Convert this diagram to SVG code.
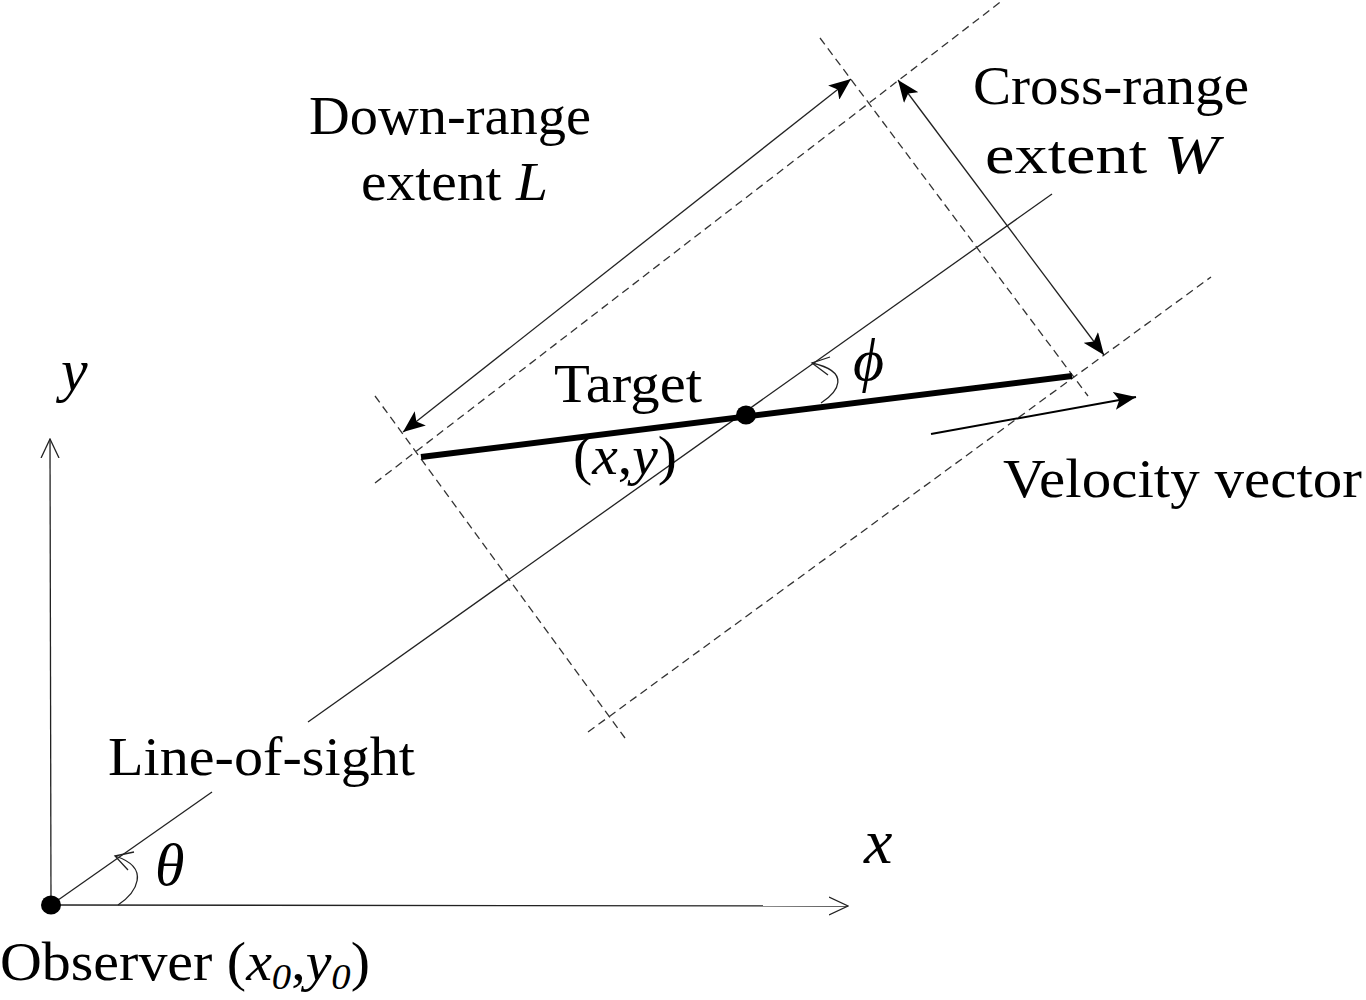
<svg xmlns="http://www.w3.org/2000/svg" width="1366" height="1000" viewBox="0 0 1366 1000">
<style>
text{font-family:"Liberation Serif","Times New Roman",serif;font-size:54px;fill:#000}
.it{font-style:italic}
.sub{font-size:36px}
.thin{stroke:#222;stroke-width:1.3;fill:none}
.dash{stroke:#333;stroke-width:1.3;fill:none;stroke-dasharray:8 5}
</style>
<defs>
<marker id="fa" viewBox="0 0 22 18" refX="22" refY="9" markerWidth="22" markerHeight="18" markerUnits="userSpaceOnUse" orient="auto-start-reverse">
<path d="M0,0 L22,9 L0,18 L5,9 z" fill="#000"/>
</marker>
<marker id="oa" viewBox="0 0 20 20" refX="19" refY="10" markerWidth="20" markerHeight="20" markerUnits="userSpaceOnUse" orient="auto">
<path d="M0,1 L19,10 L0,19" fill="none" stroke="#222" stroke-width="1.3"/>
</marker>
</defs>
<rect width="1366" height="1000" fill="#fff"/>
<g id="connectors">
<line class="thin" x1="51" y1="905" x2="50" y2="439" marker-end="url(#oa)"/>
<line class="thin" x1="51" y1="905" x2="848" y2="906" marker-end="url(#oa)"/>
<line class="thin" x1="51" y1="905" x2="212" y2="792"/>
<line class="thin" x1="308" y1="722" x2="1052" y2="194"/>
<line class="dash" x1="375" y1="396" x2="625" y2="738"/>
<line class="dash" x1="820" y1="38" x2="1088" y2="396"/>
<line class="dash" x1="375" y1="483" x2="1003" y2="0"/>
<line class="dash" x1="588" y1="732" x2="1211" y2="277"/>
<line class="thin" x1="403" y1="432" x2="851" y2="79" marker-start="url(#fa)" marker-end="url(#fa)"/>
<line class="thin" x1="898" y1="80" x2="1104" y2="355" marker-start="url(#fa)" marker-end="url(#fa)"/>
<line stroke="#000" stroke-width="2" x1="931" y1="434" x2="1136" y2="397" marker-end="url(#fa)"/>
<path class="thin" d="M118,905 C136,893 152,868 115,856"/>
<path class="thin" d="M134,852 L115,856 L128,870"/>
<path class="thin" d="M821,403 C838,392 852,372 812,363"/>
<path class="thin" d="M830,357 L812,363 L828,375"/>
</g>
<g id="observer">
<ellipse cx="51" cy="905" rx="10" ry="9.5" fill="#000"/>
<text x="0" y="980" textLength="370" lengthAdjust="spacingAndGlyphs">Observer (<tspan class="it">x</tspan><tspan class="it sub" dy="9">0</tspan><tspan dy="-9">,</tspan><tspan class="it">y</tspan><tspan class="it sub" dy="9">0</tspan><tspan dy="-9">)</tspan></text>
</g>
<g id="target">
<line x1="421" y1="457" x2="1072" y2="376" stroke="#000" stroke-width="6"/>
<ellipse cx="746" cy="415" rx="10" ry="9.5" fill="#000"/>
<text x="554" y="402" textLength="148" lengthAdjust="spacingAndGlyphs">Target</text>
<text x="573" y="474" textLength="104" lengthAdjust="spacingAndGlyphs">(<tspan class="it">x</tspan>,<tspan class="it">y</tspan>)</text>
</g>
<g id="labels">
<text x="309" y="134" textLength="282" lengthAdjust="spacingAndGlyphs">Down-range</text>
<text x="361" y="200" textLength="187" lengthAdjust="spacingAndGlyphs">extent <tspan class="it">L</tspan></text>
<text x="973" y="104" textLength="276" lengthAdjust="spacingAndGlyphs">Cross-range</text>
<text x="985" y="173" textLength="234" lengthAdjust="spacingAndGlyphs">extent <tspan class="it">W</tspan></text>
<text x="1003" y="497" textLength="359" lengthAdjust="spacingAndGlyphs">Velocity vector</text>
<text x="108" y="775" textLength="307" lengthAdjust="spacingAndGlyphs">Line-of-sight</text>
<text class="it" x="61" y="390" style="font-size:60px">y</text>
<text class="it" x="864" y="863" style="font-size:64px">x</text>
<text class="it" x="155" y="885" style="font-size:60px">θ</text>
<text class="it" x="853" y="380" style="font-size:60px">ϕ</text>
</g>
</svg>
